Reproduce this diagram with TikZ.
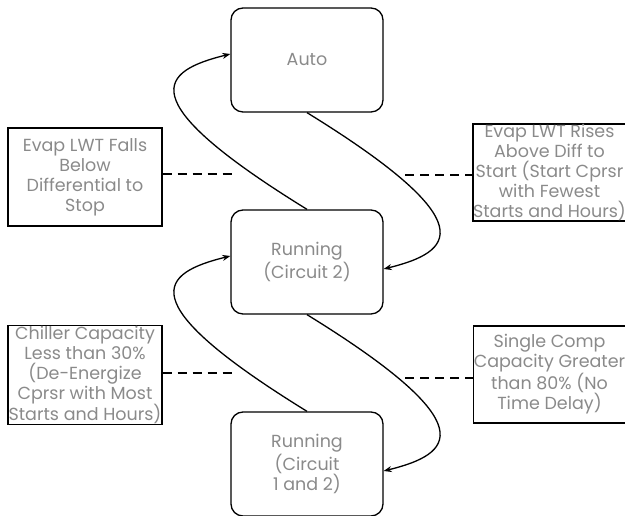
\documentclass[tikz,border=0pt]{standalone}
\usepackage{fontspec}
\setmainfont{Poppins}
\usepackage{xcolor}
\usepackage{tikz}
\usetikzlibrary{arrows.meta,calc,positioning}
\definecolor{labelgray}{HTML}{8A8A8A}

\begin{document}
\begin{tikzpicture}[x=1pt,y=1pt,
  state/.style={draw,line width=1.3pt,rounded corners=12pt,minimum width=152pt,minimum height=104pt,
    align=center,inner sep=0pt,text=labelgray,font=\fontsize{17.5}{20}\selectfont},
  cond/.style={draw,line width=1.3pt,minimum height=98pt,align=center,inner sep=0pt,
    text=labelgray,font=\fontsize{17.5}{20}\selectfont},
  trans/.style={line width=1.3pt,-{Stealth[length=8pt,width=6pt]}},
  link/.style={line width=1.3pt,dash pattern=on 9pt off 6pt}]
  \useasboundingbox (0,0) rectangle (625,516);
  % states
  \node[state] (auto) at (307,456) {Auto};
  \node[state] (run2) at (307,254) {Running\\(Circuit 2)};
  \node[state] (run12) at (307,52) {Running\\(Circuit\\1 and 2)};
  % conditions
  \node[cond,minimum width=154pt] (stop) at (85,339) {Evap LWT Falls\\Below\\Differential to\\Stop};
  \node[cond,minimum width=149pt,minimum height=97pt] (start) at (549.5,343.5) {Evap LWT Rises\\Above Diff to\\Start (Start Cprsr\\with Fewest\\Starts and Hours)};
  \node[cond,minimum width=154pt] (less) at (85,141) {Chiller Capacity\\Less than 30\%\\(De-Energize\\Cprsr with Most\\Starts and Hours)};
  \node[cond,minimum width=149pt,minimum height=97pt] (greater) at (549.5,141.5) {Single Comp\\Capacity Greater\\than 80\% (No\\Time Delay)};
  % transitions
  \draw[trans] (run2.north) .. controls +(-180,111) and +(-69,-17) .. ([yshift=6pt]auto.west);
  \draw[trans] (auto.south) .. controls +(180,-111) and +(69,17) .. ([yshift=-7pt]run2.east);
  \draw[trans] (run12.north) .. controls +(-180,111) and +(-69,-17) .. ([yshift=6pt]run2.west);
  \draw[trans] (run2.south) .. controls +(180,-111) and +(69,17) .. ([yshift=-7pt]run12.east);
  % dashed links
  \coordinate (stopend) at (233,342);
  \coordinate (startend) at (405,341);
  \coordinate (lessend) at (233,143);
  \coordinate (greaterend) at (405,138);
  \draw[link] ([yshift=3pt]stop.east) -- (stopend);
  \draw[link] (startend) -- (startend -| start.west);
  \draw[link] ([yshift=2pt]less.east) -- (lessend);
  \draw[link] (greaterend) -- (greaterend -| greater.west);
\end{tikzpicture}
\end{document}
